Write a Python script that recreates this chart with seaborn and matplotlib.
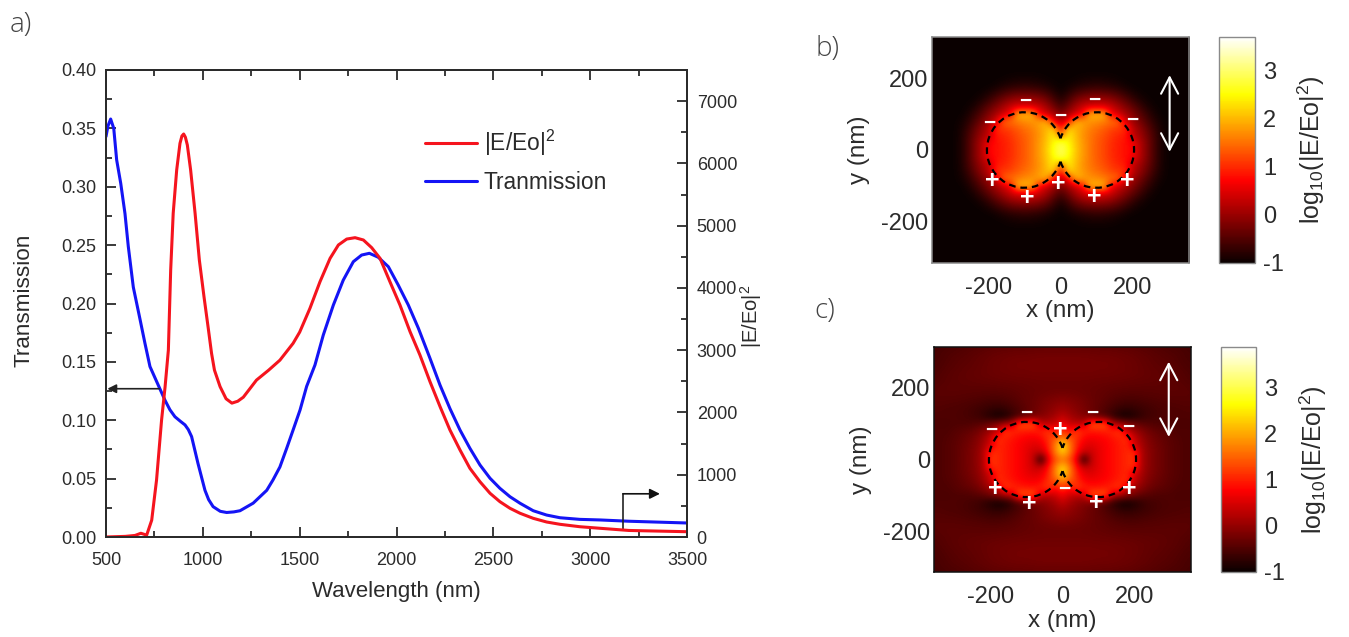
import numpy as np
import pandas as pd
import matplotlib
matplotlib.use("Agg")
import matplotlib.pyplot as plt
from matplotlib.patches import Arc
from matplotlib.ticker import MultipleLocator
import seaborn as sns

# ---------- panel a data ----------
wl_blue = [500, 510, 524, 540, 555, 576, 598, 615, 641, 675, 701, 727, 770, 805, 830, 856, 885, 908, 925, 942, 975,
           1011, 1030, 1053, 1090, 1123, 1160, 1192, 1260, 1330, 1362, 1398, 1433, 1466, 1502, 1536, 1579, 1622, 1674, 1725,
           1777, 1820, 1860, 1906, 1958, 2009, 2061, 2113, 2173, 2225, 2276, 2328, 2379, 2431, 2483, 2534, 2586, 2638,
           2706, 2775, 2844, 2947, 3051, 3200, 3500]
transmission = [.343, .352, .358, .350, .323, .303, .277, .249, .214, .187, .166, .146, .130, .117, .109, .103, .099, .096, .092, .086, .063,
                .040, .032, .026, .022, .021, .0215, .0225, .029, .040, .0488, .060, .076, .0916, .1088, .129, .1473, .173, .1987, .220,
                .2358, .2415, .243, .2396, .2315, .2158, .1987, .1788, .153, .130, .110, .0916, .076, .0617, .0503, .0417, .0345, .0289,
                .0225, .0188, .0165, .0151, .0146, .0135, .012]
wl_red = [500, 600, 650, 680, 710, 736, 761, 787, 805, 822, 834, 847, 865, 882, 892, 901, 910, 920, 937, 960, 982, 1006, 1028,
          1045, 1060, 1089, 1120, 1150, 1180, 1209, 1240, 1277, 1340, 1398, 1466, 1500, 1553, 1605, 1657, 1700, 1743, 1786, 1829,
          1872, 1915, 1966, 2018, 2070, 2121, 2173, 2225, 2276, 2328, 2379, 2431, 2483, 2534, 2586, 2638, 2706, 2775, 2844, 2947,
          3051, 3200, 3500]
enhancement = [0, 10, 25, 60, 30, 270, 915, 1880, 2410, 3000, 4288, 5199, 5894, 6322, 6440, 6472, 6420, 6295, 5894, 5199, 4448, 3859, 3352,
               2950, 2680, 2415, 2220, 2150, 2180, 2245, 2370, 2520, 2680, 2840, 3110, 3290, 3672, 4100, 4475, 4690, 4785, 4807, 4770,
               4646, 4475, 4100, 3725, 3297, 2923, 2494, 2093, 1718, 1397, 1103, 888, 702, 567, 461, 381, 300, 241, 204, 165,
               140, 105, 85]

# ---------- field maps: log10 values read on a 20 nm grid, one quadrant (x = 0..360, y = 0..320) ----------
field_b_quadrant = [
    [2.9, 2.6, 2.15, 1.8, 1.55, 1.35, 1.2, 1.0, .9, .8, .7, .2, -.2, -.6, -.9, -1],
    [2.9, 2.5, 2.1, 1.8, 1.55, 1.35, 1.2, 1.02, .9, .8, .65, .2, -.2, -.6, -.9, -1],
    [1.5, 2.4, 2.05, 1.75, 1.55, 1.38, 1.25, 1.08, .95, .85, .3, .05, -.28, -.62, -.9, -1],
    [.7, 2.2, 2.0, 1.8, 1.6, 1.5, 1.35, 1.2, 1.1, 1.0, .25, -.05, -.38, -.7, -.92, -1],
    [.2, .7, 1.95, 1.85, 1.75, 1.7, 1.6, 1.5, 1.4, .45, .05, -.25, -.55, -.8, -.95, -1],
    [-.2, .1, .4, .75, 2.0, 2.0, 2.0, .7, .4, .1, -.15, -.45, -.7, -.9, -1],
    [-.55, -.25, .1, .35, .5, .55, .5, .35, .1, -.15, -.4, -.65, -.85, -.97, -1],
    [-.8, -.55, -.25, -.05, .05, .1, .05, -.05, -.25, -.45, -.68, -.85, -.97, -1],
    [-.95, -.8, -.6, -.48, -.42, -.4, -.42, -.48, -.6, -.75, -.88, -.97, -1],
    [-1, -.95, -.88, -.82, -.78, -.76, -.78, -.82, -.88, -.95, -1],
    [-1, -1, -.98, -.95, -.93, -.92, -.93, -.95, -.98, -1],
    [-1], [-1], [-1], [-1], [-1], [-1],
]
field_c_quadrant = [
    [1.6, 1.3, .6, -1, .35, .6, .75, .85, .95, 1.05, 1.15, .2, -.05, -.2, -.3, -.4, -.45, -.5, -.5],
    [2.3, 1.7, .85, .35, .4, .6, .75, .85, .95, 1.05, 1.1, .2, -.05, -.2, -.3, -.4, -.45, -.5, -.5],
    [2.5, 1.7, 1.0, .6, .55, .65, .75, .85, .95, 1.05, .5, .15, -.1, -.22, -.32, -.4, -.45, -.5, -.5],
    [1.7, 1.4, 1.1, .8, .7, .75, .8, .9, 1.0, 1.1, .4, .05, -.15, -.27, -.35, -.42, -.47, -.5, -.5],
    [1.2, .8, 1.2, 1.0, .95, .95, 1.0, 1.05, 1.2, .35, .1, -.1, -.25, -.35, -.4, -.45, -.5, -.5, -.5],
    [.7, .4, .3, .35, 1.4, 1.4, 1.4, .3, .1, -.1, -.25, -.4, -.45, -.5, -.5, -.5, -.52, -.52, -.52],
    [.35, .15, 0, -.1, -.2, -.3, -.5, -.7, -.9, -.95, -.85, -.7, -.6, -.55, -.52, -.5, -.5, -.5, -.5],
    [.1, 0, -.1, -.2, -.3, -.4, -.5, -.6, -.7, -.75, -.7, -.65, -.6, -.55, -.52, -.5, -.5, -.48, -.48],
    [-.05, -.1, -.15, -.22, -.3, -.35, -.42, -.5, -.55, -.58, -.58, -.55, -.52, -.5, -.48, -.47, -.46, -.45, -.45],
    [-.2, -.22, -.25, -.28, -.32, -.35, -.38, -.42, -.45, -.47, -.47, -.46, -.45, -.44, -.43, -.42, -.42, -.42, -.43],
    [-.3, -.3, -.3, -.31, -.32, -.33, -.35, -.37, -.38, -.39, -.4, -.4, -.4, -.4, -.4, -.4, -.4, -.42, -.44],
    [-.28, -.28, -.28, -.28, -.29, -.3, -.3, -.31, -.32, -.33, -.34, -.35, -.36, -.37, -.38, -.4, -.42, -.45, -.48],
    [-.24, -.24, -.24, -.24, -.24, -.25, -.25, -.26, -.27, -.28, -.3, -.32, -.34, -.36, -.38, -.4, -.43, -.47, -.5],
    [-.22, -.22, -.22, -.22, -.22, -.23, -.23, -.24, -.26, -.28, -.3, -.33, -.36, -.38, -.4, -.43, -.46, -.5, -.52],
    [-.22, -.22, -.22, -.22, -.23, -.24, -.24, -.25, -.27, -.29, -.31, -.34, -.37, -.4, -.42, -.45, -.48, -.52, -.54],
    [-.28, -.28, -.28, -.28, -.29, -.3, -.3, -.31, -.32, -.33, -.35, -.38, -.4, -.43, -.46, -.48, -.5, -.53, -.55],
    [-.35, -.35, -.35, -.35, -.36, -.37, -.37, -.38, -.39, -.4, -.42, -.44, -.46, -.48, -.5, -.52, -.54, -.56, -.58],
]
charges_b_minus = [(-98, 134), (93, 139), (-199, 74), (200, 81), (0, 94)]
charges_b_plus = [(-189, -87), (185, -87), (-94, -132), (94, -130), (-5, -95)]
charges_c_minus = [(-100, 130), (84, 130), (-198, 81), (183, 90), (6, -83)]
charges_c_plus = [(-5, 81), (-187, -83), (185, -81), (-93, -124), (94, -122)]
polar_b = (304, 208, -5)
polar_c = (296, 273, 63)
scale_ticks_b = [-1, 0, 1, 2, 3]
scale_ticks_c = [-1, 0, 1, 2, 3]

W, H = 1349, 637
sns.set_theme(style="ticks")
plt.rcParams["font.family"] = ["Liberation Sans", "DejaVu Sans"]
plt.rcParams["mathtext.fontset"] = "custom"
plt.rcParams["mathtext.rm"] = "Liberation Sans"
plt.rcParams["mathtext.default"] = "regular"
plt.rcParams["axes.unicode_minus"] = False
INK = "#2b2b2b"
for key in ["text.color", "axes.labelcolor", "xtick.color", "ytick.color", "axes.edgecolor"]:
    plt.rcParams[key] = INK

fig = plt.figure(figsize=(W / 100, H / 100), dpi=100, facecolor="white")


def px_axes(l, t, r, b, **kw):
    return fig.add_axes([l / W, 1 - b / H, (r - l) / W, (b - t) / H], **kw)


def ftext(x, y, s, **kw):
    return fig.text(x / W, 1 - y / H, s, ha=kw.pop("ha", "center"), va=kw.pop("va", "center"), **kw)


# ---------- panel a ----------
ax = px_axes(106, 70, 687, 537)
ax2 = ax.twinx()
sns.lineplot(x=wl_blue, y=transmission, ax=ax, color="#1414f5", lw=2.2, estimator=None, errorbar=None, legend=False)
sns.lineplot(x=wl_red, y=enhancement, ax=ax2, color="#f5141e", lw=2.2, estimator=None, errorbar=None, legend=False)
ax.set_xlim(500, 3500)
ax.set_ylim(0, 0.40)
ax2.set_ylim(0, 7500)
ax.xaxis.set_major_locator(MultipleLocator(500))
ax.xaxis.set_minor_locator(MultipleLocator(250))
ax.yaxis.set_major_locator(MultipleLocator(0.05))
ax.yaxis.set_minor_locator(MultipleLocator(0.025))
ax.set_yticklabels([f"{v:.2f}" for v in ax.get_yticks()])
ax2.yaxis.set_major_locator(MultipleLocator(1000))
ax2.yaxis.set_minor_locator(MultipleLocator(500))
ax.tick_params(axis="both", which="major", direction="in", length=7, width=1.3, labelsize=13, pad=7)
ax.tick_params(axis="x", which="major", pad=11)
ax.tick_params(axis="both", which="minor", direction="in", length=4, width=1.3)
ax.tick_params(axis="x", which="both", top=True)
ax.tick_params(axis="y", which="both", right=False)
ax2.tick_params(axis="y", which="major", direction="in", length=7, width=1.3, labelsize=13, pad=7)
ax2.tick_params(axis="y", which="minor", direction="in", length=4, width=1.3)
for a in (ax, ax2):
    for s in a.spines.values():
        s.set_linewidth(1.4)
        s.set_visible(True)
ax.set_xlabel("")
ax.set_ylabel("")
ax2.set_ylabel("")
ftext(396, 591, "Wavelength (nm)", fontsize=16)
ftext(24, 300, "Transmission", fontsize=16.2, rotation=90)
ftext(751, 316, r"$|E/Eo|^2$", fontsize=14.5, rotation=90)

ax.annotate("", xy=(500, 0.127), xytext=(775, 0.127),
            arrowprops=dict(arrowstyle="-|>", color="#222222", lw=1.2, shrinkA=0, shrinkB=1, mutation_scale=13))
ax.plot([3169, 3169], [0.006, 0.037], color="#222222", lw=1.2)
ax.annotate("", xy=(3360, 0.037), xytext=(3169, 0.037),
            arrowprops=dict(arrowstyle="-|>", color="#111111", lw=1.2, shrinkA=0, shrinkB=0, mutation_scale=15))

leg_handles = [ax2.lines[0], ax.lines[0]]
leg = ax2.legend(leg_handles, [r"$|E/Eo|^2$", "Tranmission"], frameon=False, fontsize=16.4,
                 loc="upper left", bbox_to_anchor=(319 / 581, 1 - 58 / 467), borderaxespad=0,
                 borderpad=0, handlelength=2.3, handletextpad=0.28, labelspacing=0.58)
ax2.set_zorder(ax.get_zorder() + 1)
ax2.patch.set_visible(False)


# ---------- panels b, c ----------
def mirrored(quadrant):
    rows = np.array([list(r) + [r[-1]] * (19 - len(r)) for r in quadrant], dtype=float)
    right = np.hstack([rows[:, :0:-1], rows])
    return np.vstack([right[:0:-1], right])


def field_panel(box, cbox, quadrant, vmax, ticks, minus, plus, polar, xc_label, lab_y, cbar_label_x, spine):
    axf = px_axes(*box)
    im = axf.imshow(mirrored(quadrant), origin="lower", extent=(-370, 370, -330, 330), cmap="hot",
                    vmin=-1, vmax=vmax, interpolation="bicubic", aspect="auto")
    axf.set_xlim(-358, 358)
    axf.set_ylim(-314, 314)
    axf.set_xticks([-200, 0, 200])
    axf.set_yticks([-200, 0, 200])
    axf.tick_params(direction="in", length=0, labelsize=17, pad=5)
    axf.tick_params(axis="x", pad=10)
    axf.tick_params(axis="y", pad=3)
    for s in axf.spines.values():
        s.set_color(spine)
        s.set_linewidth(1.1)
    for sign in (100, -100):
        lo, hi = (-162, 162) if sign > 0 else (18, 342)
        axf.add_patch(Arc((sign, 0), 210, 210, theta1=lo, theta2=hi, color="black", lw=1.6, ls=(0, (3, 2.2))))
    for x, y in minus:
        axf.text(x, y, "\u2212", color="white", fontsize=15, fontweight="bold", ha="center", va="center")
    for x, y in plus:
        axf.text(x, y, "+", color="white", fontsize=18, fontweight="bold", ha="center", va="center")
    xa, y1, y0 = polar
    axf.annotate("", xy=(xa, y1), xytext=(xa, y0),
                 arrowprops=dict(arrowstyle="<->,head_length=0.42,head_width=0.22", color="white", lw=1.5,
                                 shrinkA=0, shrinkB=0, mutation_scale=28))
    cax = px_axes(*cbox)
    cb = fig.colorbar(im, cax=cax)
    cb.set_ticks(ticks)
    cax.tick_params(axis="y", direction="in", length=3, width=0.8, labelsize=17, pad=6, left=True, right=True,
                    color="#555555")
    cb.outline.set_edgecolor("#8a8a8a")
    cb.outline.set_linewidth(1.0)
    ftext(xc_label, lab_y, "x (nm)", fontsize=17.5)
    ftext(box[0] - 73, (box[1] + box[3]) / 2, "y (nm)", fontsize=17.5, rotation=90)
    ftext(cbar_label_x, (box[1] + box[3]) / 2, r"$log_{10}(|E/Eo|^2)$", fontsize=18, rotation=90)


field_panel((932, 37, 1189, 263), (1219, 37, 1255, 263), field_b_quadrant, 3.7, scale_ticks_b,
            charges_b_minus, charges_b_plus, polar_b, 1060, 311, 1311, "#8a8a8a")
field_panel((934, 347, 1191, 572), (1221, 347, 1256, 572), field_c_quadrant, 3.87, scale_ticks_c,
            charges_c_minus, charges_c_plus, polar_c, 1062, 621, 1313, "#111111")

# ---------- panel letters ----------
for x, y, s in [(21, 25, "a)"), (827, 49, "b)"), (825, 311, "c)")]:
    ftext(x, y, s, fontsize=20, family="Open Sans", color="#444444", fontweight="light")

fig.savefig("out.png", dpi=100, facecolor="white")
